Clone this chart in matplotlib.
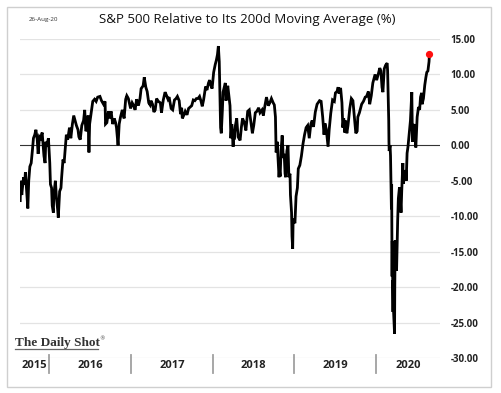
import matplotlib
matplotlib.use("Agg")
import matplotlib.pyplot as plt
import matplotlib.transforms as mtransforms
import pandas as pd
from matplotlib.patches import Rectangle

dates = [
"2015-08-25","2015-08-27","2015-09-01","2015-09-04","2015-09-09","2015-09-14","2015-09-17","2015-09-23","2015-09-28","2015-10-02",
"2015-10-07","2015-10-13","2015-10-19","2015-10-23","2015-10-29","2015-11-03","2015-11-09","2015-11-13","2015-11-19","2015-11-24",
"2015-12-01","2015-12-04","2015-12-09","2015-12-14","2015-12-17","2015-12-23","2015-12-29","2016-01-04","2016-01-07","2016-01-12",
"2016-01-15","2016-01-20","2016-01-22","2016-01-29","2016-02-03","2016-02-08","2016-02-11","2016-02-17","2016-02-23","2016-02-26",
"2016-03-03","2016-03-08","2016-03-14","2016-03-18","2016-03-24","2016-04-01","2016-04-07","2016-04-14","2016-04-20","2016-04-26",
"2016-05-02","2016-05-09","2016-05-13","2016-05-19","2016-05-26","2016-06-03","2016-06-08","2016-06-13","2016-06-17","2016-06-23",
"2016-06-27","2016-06-30","2016-07-08","2016-07-14","2016-07-22","2016-07-29","2016-08-05","2016-08-15","2016-08-22","2016-08-31",
"2016-09-07","2016-09-09","2016-09-15","2016-09-22","2016-09-27","2016-10-04","2016-10-11","2016-10-18","2016-10-24","2016-10-28",
"2016-11-04","2016-11-09","2016-11-15","2016-11-23","2016-12-01","2016-12-08","2016-12-13","2016-12-20","2016-12-30","2017-01-06",
"2017-01-13","2017-01-19","2017-01-26","2017-02-03","2017-02-10","2017-02-15","2017-02-24","2017-03-01","2017-03-08","2017-03-14",
"2017-03-21","2017-03-27","2017-03-31","2017-04-07","2017-04-13","2017-04-19","2017-04-25","2017-05-03","2017-05-12","2017-05-17",
"2017-05-25","2017-06-02","2017-06-09","2017-06-15","2017-06-20","2017-06-29","2017-07-06","2017-07-14","2017-07-21","2017-07-27",
"2017-08-04","2017-08-10","2017-08-15","2017-08-18","2017-08-24","2017-08-31","2017-09-08","2017-09-15","2017-09-22","2017-09-29",
"2017-10-06","2017-10-13","2017-10-20","2017-10-27","2017-11-03","2017-11-09","2017-11-15","2017-11-21","2017-11-30","2017-12-06",
"2017-12-13","2017-12-18","2017-12-22","2017-12-29","2018-01-05","2018-01-12","2018-01-17","2018-01-22","2018-01-26","2018-01-30",
"2018-02-02","2018-02-05","2018-02-08","2018-02-13","2018-02-16","2018-02-26","2018-03-01","2018-03-05","2018-03-09","2018-03-14",
"2018-03-19","2018-03-23","2018-03-27","2018-04-02","2018-04-05","2018-04-06","2018-04-11","2018-04-18","2018-04-24","2018-05-03",
"2018-05-09","2018-05-14","2018-05-22","2018-05-29","2018-06-06","2018-06-13","2018-06-19","2018-06-27","2018-07-03","2018-07-10",
"2018-07-17","2018-07-25","2018-07-31","2018-08-09","2018-08-15","2018-08-22","2018-08-29","2018-09-06","2018-09-13","2018-09-20",
"2018-09-28","2018-10-03","2018-10-08","2018-10-11","2018-10-17","2018-10-19","2018-10-24","2018-10-26","2018-10-29","2018-11-02",
"2018-11-07","2018-11-12","2018-11-16","2018-11-20","2018-11-23","2018-11-28","2018-12-03","2018-12-07","2018-12-12","2018-12-14",
"2018-12-19","2018-12-21","2018-12-24","2018-12-26","2018-12-28","2019-01-03","2019-01-08","2019-01-14","2019-01-18","2019-01-25",
"2019-02-01","2019-02-08","2019-02-15","2019-02-22","2019-03-01","2019-03-08","2019-03-15","2019-03-21","2019-03-27","2019-04-04",
"2019-04-12","2019-04-23","2019-04-30","2019-05-07","2019-05-13","2019-05-17","2019-05-23","2019-05-31","2019-06-05","2019-06-12",
"2019-06-20","2019-06-28","2019-07-03","2019-07-10","2019-07-15","2019-07-19","2019-07-26","2019-08-01","2019-08-05","2019-08-09",
"2019-08-14","2019-08-16","2019-08-23","2019-08-28","2019-09-05","2019-09-12","2019-09-19","2019-09-24","2019-10-02","2019-10-08",
"2019-10-11","2019-10-18","2019-10-28","2019-11-05","2019-11-13","2019-11-19","2019-11-27","2019-12-03","2019-12-10","2019-12-17",
"2019-12-27","2020-01-03","2020-01-10","2020-01-17","2020-01-22","2020-01-27","2020-01-31","2020-02-06","2020-02-12","2020-02-19",
"2020-02-21","2020-02-24","2020-02-26","2020-02-27","2020-02-28","2020-03-03","2020-03-05","2020-03-09","2020-03-10","2020-03-12",
"2020-03-13","2020-03-16","2020-03-17","2020-03-18","2020-03-20","2020-03-23","2020-03-24","2020-03-26","2020-03-27","2020-03-31",
"2020-04-01","2020-04-06","2020-04-09","2020-04-14","2020-04-16","2020-04-21","2020-04-24","2020-04-29","2020-05-01","2020-05-06",
"2020-05-12","2020-05-14","2020-05-18","2020-05-22","2020-05-27","2020-06-02","2020-06-08","2020-06-11","2020-06-15","2020-06-19",
"2020-06-24","2020-06-26","2020-07-02","2020-07-08","2020-07-13","2020-07-17","2020-07-22","2020-07-24","2020-07-30","2020-08-05",
"2020-08-10","2020-08-14","2020-08-19","2020-08-24","2020-08-26",
]

values = [
-7.8,-5.0,-7.0,-6.0,-4.5,-5.5,-3.8,-6.5,-8.9,-5.0,
-3.0,-2.5,-0.5,1.0,1.5,2.2,0.8,-1.2,1.2,1.0,
1.8,0.5,-1.5,-2.5,0.5,0.2,1.0,-2.5,-5.5,-6.0,
-8.5,-9.5,-7.0,-5.0,-7.5,-9.0,-10.2,-6.5,-6.0,-4.5,
-2.0,-2.5,0.0,1.5,0.8,2.5,1.0,3.0,4.2,3.5,
2.8,2.2,1.2,0.8,2.8,3.5,5.0,2.0,2.2,4.2,
-1.0,3.0,4.8,6.2,6.5,6.2,6.8,6.9,6.3,5.8,
6.2,3.0,3.2,4.8,3.8,4.8,3.0,3.8,3.2,2.5,
0.0,3.0,4.0,5.0,3.8,6.5,7.0,6.6,5.2,6.0,
5.6,5.0,6.5,5.6,6.6,8.0,8.4,9.6,8.2,7.6,
6.0,5.7,6.3,5.8,4.7,5.0,6.6,6.2,6.0,4.6,
6.4,7.5,7.0,6.5,6.8,5.2,5.0,6.4,6.6,6.9,
6.3,4.4,5.3,3.8,4.2,4.8,4.3,5.2,5.4,5.6,
6.4,6.3,6.6,6.6,6.9,6.3,5.5,6.4,8.3,7.8,
8.8,9.2,8.6,8.0,10.3,11.4,12.0,12.8,14.0,11.8,
7.5,2.5,1.7,5.0,7.5,8.8,6.3,7.0,8.4,7.0,
5.6,1.0,3.0,-0.2,2.0,0.8,2.6,3.8,1.2,0.7,
2.6,3.8,3.2,2.1,4.8,5.0,3.6,1.7,2.8,4.6,
4.8,5.3,4.6,5.0,4.2,5.6,6.8,5.6,6.0,6.6,
6.0,5.7,4.0,-1.0,0.5,-1.5,-4.5,-3.5,-4.4,-0.8,
1.4,-1.8,-1.2,-4.0,-4.5,-0.8,0.0,-4.5,-4.0,-7.0,
-9.5,-12.8,-14.6,-10.5,-10.5,-11.0,-7.2,-6.0,-3.3,-2.8,
-1.5,0.2,1.5,2.5,2.8,1.0,3.0,3.5,2.6,4.7,
5.8,6.3,6.2,4.0,1.5,3.1,2.3,-0.2,2.2,4.5,
6.4,6.2,7.4,7.6,8.2,7.3,8.1,6.0,2.5,3.8,
1.8,3.5,1.7,2.8,5.2,6.6,6.3,4.5,1.7,2.0,
4.0,4.6,5.8,6.2,6.8,6.9,7.6,5.8,7.0,8.8,
10.0,9.2,10.0,10.9,10.5,8.2,7.5,10.8,11.3,11.6,
10.5,6.5,3.5,0.5,-0.8,0.0,-1.5,-9.0,-5.5,-18.5,
-13.5,-23.5,-19.0,-23.0,-24.5,-26.6,-20.0,-13.4,-15.5,-14.0,
-17.7,-10.5,-7.5,-5.9,-6.5,-9.5,-6.5,-2.5,-5.4,-4.5,
-3.5,-5.0,-1.1,-0.2,1.5,3.5,7.5,0.5,2.5,3.0,
0.5,-0.3,4.0,5.4,5.0,6.8,7.4,5.8,6.6,8.5,
9.6,10.3,10.5,11.8,12.9,
]

years = ["2015", "2016", "2017", "2018", "2019", "2020"]
y_ticks = [15, 10, 5, 0, -5, -10, -15, -20, -25, -30]
title = "S&P 500 Relative to Its 200d Moving Average (%)"
date_label = "26-Aug-20"

x = pd.to_datetime(dates)

W, H = 502, 393
fig = plt.figure(figsize=(W / 100, H / 100), dpi=100)
fig.patch.set_facecolor("white")

# outer frame
fig.add_artist(Rectangle((7 / W, 6 / H), 484 / W, 380 / H, transform=fig.transFigure,
                         fill=False, edgecolor="#cfcfcf", linewidth=1.0))

ax = fig.add_axes([20 / W, (H - 358) / H, 420 / W, 319 / H])
xmin = pd.Timestamp("2015-08-24")
xmax = pd.Timestamp("2020-10-12")
ax.set_xlim(xmin, xmax)
ax.set_ylim(-30, 15)

for t in y_ticks:
    if t == 0:
        continue
    ax.axhline(t, color="#e3e3e3", linewidth=0.9, zorder=0)
ax.axhline(0, color="#333333", linewidth=0.8, zorder=1)

ax.plot(x, values, color="black", linewidth=2.0, solid_joinstyle="miter", zorder=3)
ax.plot(x[-1:], values[-1:], "o", color="#ff1010", markersize=4.2, zorder=4)

for s in ax.spines.values():
    s.set_visible(False)
ax.set_xticks([])
ax.yaxis.tick_right()
ax.set_yticks(y_ticks)
ax.set_yticklabels([f"{t:.2f}" for t in y_ticks], fontsize=7, fontweight="bold",
                   family="Open Sans", color="#222222")
ax.tick_params(axis="y", length=0, pad=7.5)

# year band below axis
trans = mtransforms.blended_transform_factory(ax.transData, ax.transAxes)
for yr in years[1:]:
    xd = pd.Timestamp(f"{yr}-01-01")
    ax.plot([xd, xd], [3 / 319, -15 / 319], transform=trans, color="#a0a0a0",
            linewidth=1.3, clip_on=False)
for yr in years:
    start = max(pd.Timestamp(f"{yr}-01-01"), xmin)
    end = min(pd.Timestamp(f"{int(yr) + 1}-01-01"), xmax)
    mid = start + (end - start) / 2
    ax.text(mid, -8 / 319, yr, transform=trans, ha="center", va="center",
            fontsize=8, fontweight="bold", family="Open Sans", color="#222222")

fig.text(247 / W, (H - 19) / H, title, ha="center", va="center", fontsize=9.5,
         family="Open Sans", color="#111111")
fig.text(29 / W, (H - 19) / H, date_label, ha="left", va="center", fontsize=4.5,
         family="Open Sans", color="#333333")

fig.text(15 / W, (H - 343) / H, "The Daily Shot", ha="left", va="center",
         fontsize=9.5, family="Liberation Serif", fontweight="bold", color="#333333")
fig.text(99 / W, (H - 339) / H, "®", ha="left", va="center", fontsize=4,
         family="DejaVu Sans", color="#444444")
fig.add_artist(plt.Line2D([15 / W, 98 / W], [(H - 349) / H, (H - 349) / H],
                          transform=fig.transFigure, color="#666666", linewidth=0.9))

fig.savefig("out.png", dpi=100, facecolor="white")
